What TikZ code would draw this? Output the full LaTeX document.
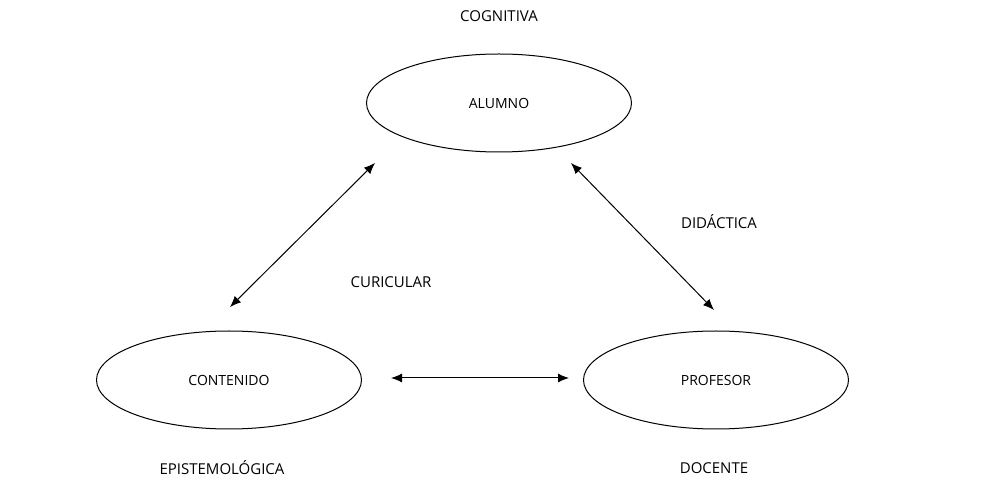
\documentclass[tikz,border=0pt]{standalone}
\usepackage{fontspec}
\setmainfont{Open Sans}
\usetikzlibrary{arrows.meta,shapes.geometric}
\begin{document}
\begin{tikzpicture}[x=1pt,y=-1pt,
  ell/.style={draw,ellipse,line width=1pt,minimum width=265pt,minimum height=98pt,inner sep=0pt,font=\fontsize{14}{16}\selectfont},
  lab/.style={font=\fontsize{15}{18}\selectfont},
  arr/.style={line width=1pt,{Latex[length=11pt,width=9pt]}-{Latex[length=11pt,width=9pt]}}]
\useasboundingbox (0,0) rectangle (999,502);
\node[ell] (alumno) at (499,103) {ALUMNO};
\node[ell] (contenido) at (229,380) {CONTENIDO};
\node[ell] (profesor) at (716,380) {PROFESOR};
\node[lab] (cog) at (499,16) {COGNITIVA};
\node[lab] (did) at (719,222) {DIDÁCTICA};
\node[lab] (cur) at (391,282) {CURICULAR};
\node[lab] (epi) at (222,468) {EPISTEMOLÓGICA};
\node[lab] (doc) at (714,468) {DOCENTE};
\coordinate (a1) at (230,307); \coordinate (a2) at (375,163);
\coordinate (b1) at (571,163); \coordinate (b2) at (714,310);
\coordinate (c1) at (391,378); \coordinate (c2) at (569,378);
\draw[arr] (a1) -- (a2);
\draw[arr] (b1) -- (b2);
\draw[arr] (c1) -- (c2);
\end{tikzpicture}
\end{document}
